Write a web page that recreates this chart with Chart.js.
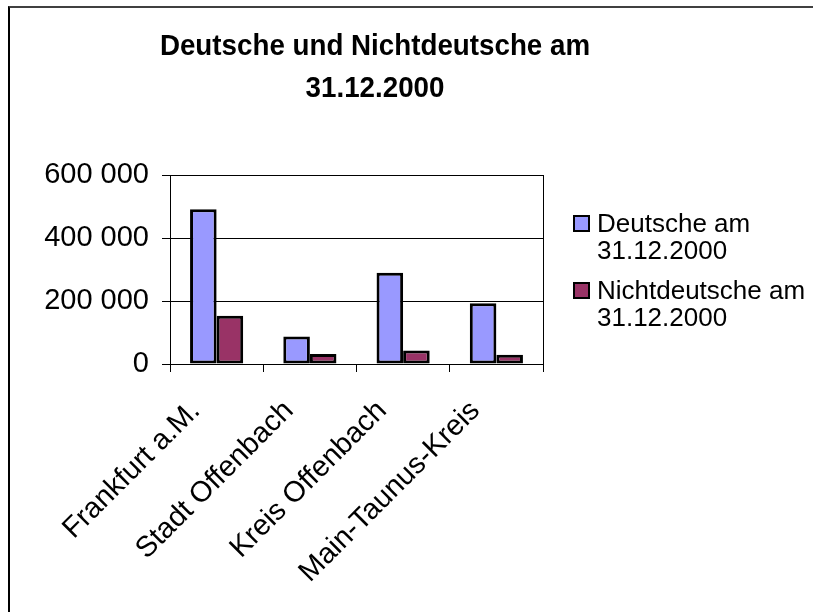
<!DOCTYPE html>
<html>
<head>
<meta charset="utf-8">
<script src="https://cdn.jsdelivr.net/npm/chart.js@4/dist/chart.umd.min.js"></script>
<style>
    html, body { margin: 0; padding: 0; background: #fff; overflow: hidden; }
    #wrap { position: relative; width: 813px; height: 612px; overflow: hidden; }
    #frame {
        position: absolute; left: 8px; top: 6px; width: 900px; height: 700px;
        border-top: 2px solid #404040; border-left: 2px solid #000;
    }
    canvas { position: absolute; left: 0; top: 0; }
</style>
</head>
<body>
<div id="wrap">
    <div id="frame"></div>
    <canvas id="chart" width="813" height="612"></canvas>
</div>
<script>
    const titleLines = ['Deutsche und Nichtdeutsche am', '31.12.2000'];
    const districts = ['Frankfurt a.M.', 'Stadt Offenbach', 'Kreis Offenbach', 'Main-Taunus-Kreis'];
    const seriesNames = ['Deutsche am 31.12.2000', 'Nichtdeutsche am 31.12.2000'];
    const germans = [491000, 87000, 290000, 193000];
    const nonGermans = [153000, 32000, 43000, 29000];
    const yTicks = [0, 200000, 400000, 600000];

    const FONT = '"Liberation Sans", Arial, sans-serif';

    // title + legend + plot frame drawn by hand (Excel-ish look)
    const excelBits = {
        id: 'excelBits',
        afterDraw(chart) {
            const ctx = chart.ctx;
            const area = chart.chartArea;
            ctx.save();

            // right border of plot area
            ctx.strokeStyle = '#000';
            ctx.lineWidth = 1;
            ctx.beginPath();
            ctx.moveTo(Math.round(area.right) + 0.5, area.top);
            ctx.lineTo(Math.round(area.right) + 0.5, area.bottom);
            ctx.stroke();

            // title (slightly condensed like the original)
            ctx.fillStyle = '#000';
            ctx.font = 'bold 30px ' + FONT;
            ctx.textAlign = 'center';
            ctx.textBaseline = 'alphabetic';
            titleLines.forEach((line, i) => {
                ctx.save();
                ctx.translate(375, 55 + i * 42);
                ctx.scale(0.925, 1);
                ctx.fillText(line, 0, 0);
                ctx.restore();
            });

            // legend
            ctx.font = '26px ' + FONT;
            ctx.textAlign = 'left';
            chart.data.datasets.forEach((ds, i) => {
                const base = 232 + i * 67;
                ctx.fillStyle = '#000';
                ctx.fillRect(573, base - 17, 17, 17);
                ctx.fillStyle = ds.backgroundColor;
                ctx.fillRect(575, base - 15, 13, 13);
                const cut = ds.label.lastIndexOf(' ');
                ctx.fillStyle = '#000';
                ctx.fillText(ds.label.slice(0, cut), 597, base);
                ctx.fillText(ds.label.slice(cut + 1), 597, base + 27);
            });
            ctx.restore();
        }
    };

    new Chart(document.getElementById('chart'), {
        type: 'bar',
        data: {
            labels: districts,
            datasets: [
                { label: seriesNames[0], data: germans, backgroundColor: '#9999FF' },
                { label: seriesNames[1], data: nonGermans, backgroundColor: '#993366' }
            ]
        },
        options: {
            responsive: false,
            animation: false,
            devicePixelRatio: 1,
            layout: { padding: { left: 0, top: 175, right: 270, bottom: 0 } },
            datasets: {
                bar: {
                    categoryPercentage: 0.57,
                    barPercentage: 1.0,
                    borderColor: '#000',
                    borderWidth: 3,
                    borderSkipped: false
                }
            },
            plugins: {
                legend: { display: false },
                title: { display: false },
                tooltip: { enabled: false }
            },
            scales: {
                x: {
                    afterFit: s => { s.height = 248; },
                    grid: { drawOnChartArea: false, tickLength: 8, color: '#000' },
                    border: { color: '#000' },
                    ticks: {
                        color: '#000',
                        font: { family: FONT, size: 29 },
                        minRotation: 45,
                        maxRotation: 45,
                        autoSkip: false,
                        padding: 22,
                        labelOffset: -21
                    }
                },
                y: {
                    min: 0,
                    max: 600000,
                    afterFit: s => { s.width = 170; },
                    afterBuildTicks: s => { s.ticks = yTicks.map(v => ({ value: v })); },
                    grid: { color: '#000', tickLength: 8 },
                    border: { color: '#000' },
                    ticks: {
                        color: '#000',
                        font: { family: FONT, size: 29 },
                        padding: 13,
                        callback: v => v.toString().replace(/\B(?=(\d{3})+(?!\d))/g, ' ')
                    }
                }
            }
        },
        plugins: [excelBits]
    });
</script>
</body>
</html>
